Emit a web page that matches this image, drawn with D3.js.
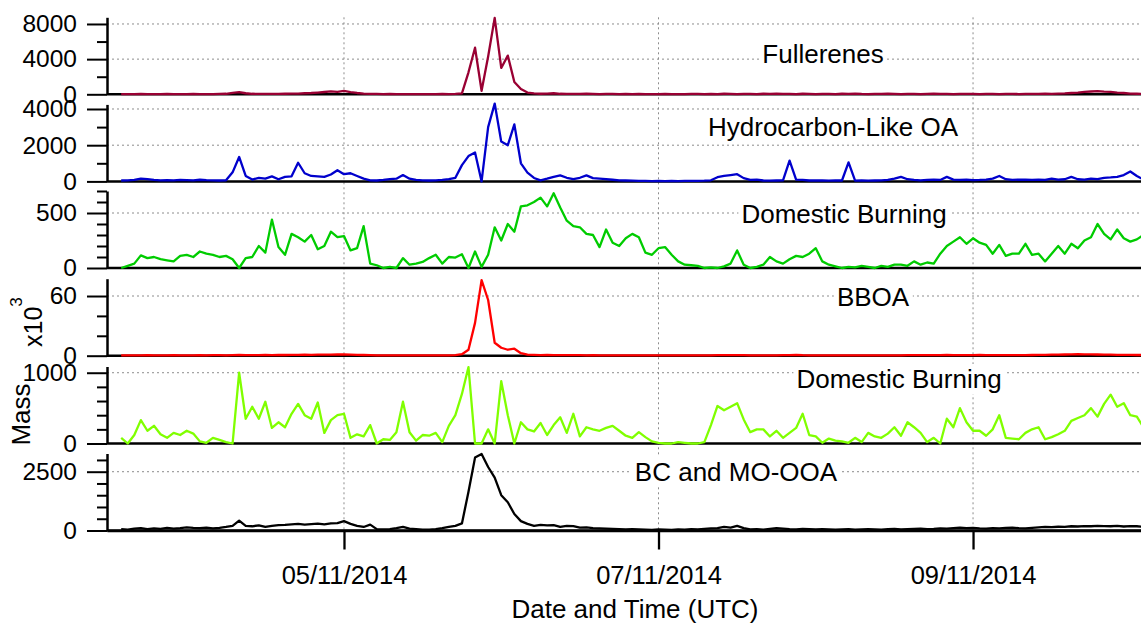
<!DOCTYPE html>
<html>
<head>
<meta charset="utf-8">
<script src="https://cdn.jsdelivr.net/npm/d3@7"></script>
<style>
  body { margin: 0; background: #fff; }
  svg { display: block; }
  text { font-family: "Liberation Sans", Arial, Helvetica, sans-serif; fill: #000; }
</style>
</head>
<body>
<svg id="chart" width="1141" height="625"></svg>
<script>
// Hourly samples starting 03/11/2014 14:00 UTC
const startTime = new Date(2014, 10, 3, 14, 0);

const panelLabels = ["Fullerenes", "Hydrocarbon-Like OA", "Domestic Burning", "BBOA", "Domestic Burning", "BC and MO-OOA"];
const dateTicks = [new Date(2014, 10, 5), new Date(2014, 10, 7), new Date(2014, 10, 9)];
const xTitle = "Date and Time (UTC)";
const yTitle = "Mass";

const fullerenes = [
  20,30,20,40,30,20,30,40,30,20,
  30,40,30,20,30,40,60,150,250,120,
  60,50,40,50,40,60,70,80,120,150,
  200,260,330,280,380,250,150,80,50,40,
  30,40,30,20,30,20,30,20,30,40,
  30,50,100,2500,5300,400,4300,8700,3000,4400,
  1400,600,200,100,60,80,120,60,50,40,
  40,60,50,30,40,50,30,40,30,40,
  30,20,30,40,30,20,30,40,50,30,
  40,30,60,40,30,50,40,30,60,40,
  60,40,50,30,60,40,30,50,40,30,
  60,50,80,40,30,50,40,60,50,30,
  40,50,30,40,60,50,40,30,40,50,
  40,30,50,40,30,40,50,30,40,50,
  40,60,50,80,100,150,200,280,320,350,
  300,280,200,150,80,60,50
];

const hoa = [
  50,60,80,150,120,80,60,70,60,80,
  70,60,90,70,60,50,60,500,1350,300,
  100,200,150,280,120,250,280,1030,450,300,
  280,250,380,620,400,450,300,150,60,50,
  80,120,150,350,150,80,60,50,60,80,
  120,200,900,1400,1600,0,3000,4300,2200,2000,
  3150,1000,480,190,60,150,250,330,200,130,
  200,330,180,150,120,90,60,50,40,30,
  25,20,25,20,25,20,25,30,30,40,
  60,230,300,350,400,180,80,100,50,40,
  50,60,1150,100,80,50,60,50,40,60,
  50,1050,40,50,40,50,60,80,150,250,
  120,80,60,80,100,80,250,100,80,100,
  70,80,100,150,300,120,80,100,90,80,
  100,80,150,100,120,250,120,100,150,130,
  200,220,250,350,550,300,100
];

const domesticA = [
  0,20,40,115,90,100,80,70,60,110,
  120,100,150,130,120,100,110,80,0,90,
  100,200,140,440,190,120,310,280,240,300,
  170,200,330,280,290,160,180,380,40,25,
  0,10,0,90,30,40,55,90,120,40,
  100,95,125,0,150,10,120,370,250,400,
  330,560,570,600,640,560,680,550,430,380,
  370,310,300,190,350,230,200,270,310,280,
  140,120,180,190,120,60,30,25,20,0,
  5,0,15,40,160,30,0,10,30,100,
  60,40,80,110,100,130,180,60,30,15,
  0,10,5,20,10,0,20,10,30,30,
  20,60,30,50,40,130,200,240,280,220,
  270,230,210,130,210,110,130,130,220,120,
  130,60,130,200,130,220,180,250,280,400,
  310,260,350,270,240,260,300
];

// BBOA in units of 10^3
const bboa = [
  0.3,0.3,0.4,0.3,0.5,0.4,0.3,0.4,0.5,0.4,
  0.3,0.4,0.5,0.4,0.6,0.5,0.4,0.6,0.8,0.5,
  0.6,0.5,0.7,0.6,0.8,0.7,0.9,0.8,1.0,0.9,
  1.0,1.1,1.0,1.2,1.3,1.1,0.9,0.7,0.5,0.4,
  0.3,0.4,0.3,0.4,0.3,0.4,0.3,0.4,0.3,0.4,
  0.4,0.6,1.5,6,33,76,56,13,8,6,
  7,2.5,1.0,0.8,0.6,0.7,0.6,0.5,0.6,0.5,
  0.5,0.4,0.5,0.4,0.4,0.3,0.4,0.3,0.3,0.3,
  0.3,0.3,0.3,0.3,0.3,0.3,0.3,0.3,0.3,0.3,
  0.4,0.5,0.6,0.5,0.6,0.5,0.4,0.3,0.3,0.4,
  0.4,0.5,0.6,0.8,0.5,0.4,0.3,0.4,0.3,0.3,
  0.3,0.3,0.4,0.3,0.4,0.3,0.4,0.4,0.3,0.4,
  0.5,0.6,0.5,0.6,0.5,0.6,0.7,0.6,0.5,0.6,
  0.6,0.7,0.6,0.5,0.6,0.5,0.6,0.5,0.6,0.7,
  0.8,0.9,1.0,1.1,1.2,1.3,1.5,1.4,1.3,1.2,
  1.1,1.0,0.9,0.8,0.8,0.7,0.7
];

const domesticB = [
  80,0,120,330,180,250,130,80,150,120,
  180,140,30,10,80,50,20,0,1000,350,
  520,350,590,220,300,230,420,560,400,350,
  580,150,330,400,420,80,130,100,260,0,
  60,50,160,590,160,40,120,110,150,20,
  250,400,700,1080,0,0,200,0,880,400,
  0,300,200,170,290,120,260,370,150,420,
  100,230,200,180,220,250,180,110,80,160,
  90,30,10,0,0,20,10,0,0,20,
  260,530,470,520,570,340,160,200,200,100,
  180,80,150,220,420,120,100,10,70,40,
  30,10,80,20,150,100,80,140,230,110,
  300,230,150,20,80,0,350,230,500,300,
  180,180,110,200,400,80,70,60,150,200,
  230,60,90,130,180,320,360,400,500,380,
  560,690,520,570,400,380,230
];

const bcMoOoa = [
  60,40,80,100,60,90,70,110,80,100,
  130,110,100,120,90,110,150,200,420,200,
  180,220,150,200,230,240,260,280,250,270,
  290,260,300,310,400,280,200,150,250,60,
  50,60,100,150,80,60,40,40,60,100,
  150,200,300,1650,3100,3250,2700,2250,1500,1200,
  700,400,280,200,240,220,230,150,200,190,
  120,130,100,90,80,70,60,50,60,50,
  40,30,50,40,30,50,40,60,50,70,
  90,100,150,120,200,100,50,60,40,70,
  100,80,60,50,70,60,50,60,50,40,
  50,60,40,50,60,50,40,60,70,50,
  60,70,80,60,70,90,80,100,120,100,
  110,90,80,100,90,110,120,100,90,110,
  130,150,140,160,150,180,170,190,180,200,
  190,180,200,170,190,180,160
];

const seriesValues = [fullerenes, hoa, domesticA, bboa, domesticB, bcMoOoa];
const seriesColors = ["#990033", "#0000cc", "#00cc00", "#ff0000", "#80ff00", "#000000"];
const yMaxima = [8760, 4254, 700, 77.4, 1088, 3274];
const majorTicks = [[0, 4000, 8000], [0, 2000, 4000], [0, 500], [0, 60], [0, 1000], [0, 2500]];
const minorTicks = [[2000, 6000], [1000, 3000], [100, 200, 300, 400, 600, 700], [20, 40], [200, 400, 600, 800], [500, 1000, 1500, 2000, 3000]];

// Layout
const left = 107, right = 1141;
const panelTops = [17.3, 104.4, 191, 278.7, 366.5, 453.5];
const panelH = 77;
const labelPos = [[823, 63], [833, 136], [844, 223], [873, 306], [899, 388], [736, 480.5]];

const svg = d3.select("#chart");
const x = d3.scaleTime()
  .domain([new Date(2014, 10, 3, 11, 50), new Date(2014, 10, 10, 1, 38)])
  .range([left, right]);

svg.append("defs").append("clipPath").attr("id", "plotClip")
  .append("rect").attr("x", left).attr("y", 0).attr("width", right - left).attr("height", 625);

const gridG = svg.append("g");
const labelG = svg.append("g");
const axisG = svg.append("g");
const dataG = svg.append("g").attr("clip-path", "url(#plotClip)");

// Vertical grid through all panels
gridG.selectAll("line.vgrid").data(dateTicks).join("line")
  .attr("class", "vgrid")
  .attr("x1", d => x(d)).attr("x2", d => x(d))
  .attr("y1", panelTops[0]).attr("y2", panelTops[5] + panelH)
  .attr("stroke", "#8c8c8c").attr("stroke-width", 1).attr("stroke-dasharray", "2,3");

const line = d3.line().curve(d3.curveLinear);

seriesValues.forEach((vals, i) => {
  const top = panelTops[i], zero = top + panelH;
  const y = d3.scaleLinear().domain([0, yMaxima[i]]).range([zero, top]);

  // horizontal grid at labelled ticks
  gridG.selectAll(null).data(majorTicks[i].filter(v => v > 0)).join("line")
    .attr("x1", left).attr("x2", right)
    .attr("y1", d => y(d)).attr("y2", d => y(d))
    .attr("stroke", "#8c8c8c").attr("stroke-width", 1).attr("stroke-dasharray", "2,3");

  // minor ticks
  axisG.append("g")
    .attr("transform", `translate(${left},0)`)
    .call(d3.axisLeft(y).tickValues(minorTicks[i]).tickSize(10).tickSizeOuter(0).tickFormat(""))
    .call(g => g.select(".domain").remove())
    .call(g => g.selectAll(".tick line").attr("stroke", "#000").attr("stroke-width", 2));

  // major ticks with labels
  axisG.append("g")
    .attr("transform", `translate(${left},0)`)
    .call(d3.axisLeft(y).tickValues(majorTicks[i]).tickSize(20).tickSizeOuter(0).tickPadding(10).tickFormat(d3.format("d")))
    .call(g => g.attr("font-size", null).attr("font-family", null))
    .call(g => g.select(".domain").attr("stroke", "#000").attr("stroke-width", 2.5))
    .call(g => g.selectAll(".tick line").attr("stroke", "#000").attr("stroke-width", 2))
    .call(g => g.selectAll(".tick text").attr("font-size", "24.5px").attr("fill", "#000"));

  // zero line
  axisG.append("line")
    .attr("x1", left).attr("x2", right).attr("y1", zero).attr("y2", zero)
    .attr("stroke", "#000").attr("stroke-width", 2.5);

  // panel label on white box
  const t = labelG.append("text")
    .attr("x", labelPos[i][0]).attr("y", labelPos[i][1])
    .attr("text-anchor", "middle").attr("font-size", "26px")
    .text(panelLabels[i]);
  const bb = t.node().getBBox();
  labelG.insert("rect", "text:last-child")
    .attr("x", bb.x - 3).attr("y", bb.y).attr("width", bb.width + 6).attr("height", bb.height)
    .attr("fill", "#fff");

  // series trace
  const pts = vals.map((v, k) => [x(d3.timeHour.offset(startTime, k)), y(v)]);
  dataG.append("path")
    .attr("d", line(pts))
    .attr("fill", "none")
    .attr("stroke", seriesColors[i])
    .attr("stroke-width", 2.3)
    .attr("stroke-linejoin", "round");
});

// Bottom time axis
const bottomZero = panelTops[5] + panelH;
axisG.append("g")
  .attr("transform", `translate(0,${bottomZero})`)
  .call(d3.axisBottom(x).tickValues(dateTicks).tickSize(19).tickSizeOuter(0).tickPadding(16).tickFormat(d3.timeFormat("%d/%m/%Y")))
  .call(g => g.attr("font-size", null).attr("font-family", null))
  .call(g => g.select(".domain").attr("stroke", "#000").attr("stroke-width", 2.5))
  .call(g => g.selectAll(".tick line").attr("stroke", "#000").attr("stroke-width", 2.3))
  .call(g => g.selectAll(".tick text").attr("font-size", "25.5px").attr("fill", "#000"));

// Axis titles
svg.append("text")
  .attr("x", 635).attr("y", 618)
  .attr("text-anchor", "middle").attr("font-size", "26px")
  .text(xTitle);

svg.append("text")
  .attr("transform", "translate(30,414.5) rotate(-90)")
  .attr("text-anchor", "middle").attr("font-size", "26px")
  .text(yTitle);

const mult = svg.append("text")
  .attr("transform", "translate(41.7,347) rotate(-90)")
  .attr("font-size", "25px");
mult.append("tspan").text("x10");
mult.append("tspan").attr("font-size", "17px").attr("dy", -20).text("3");
</script>
</body>
</html>
